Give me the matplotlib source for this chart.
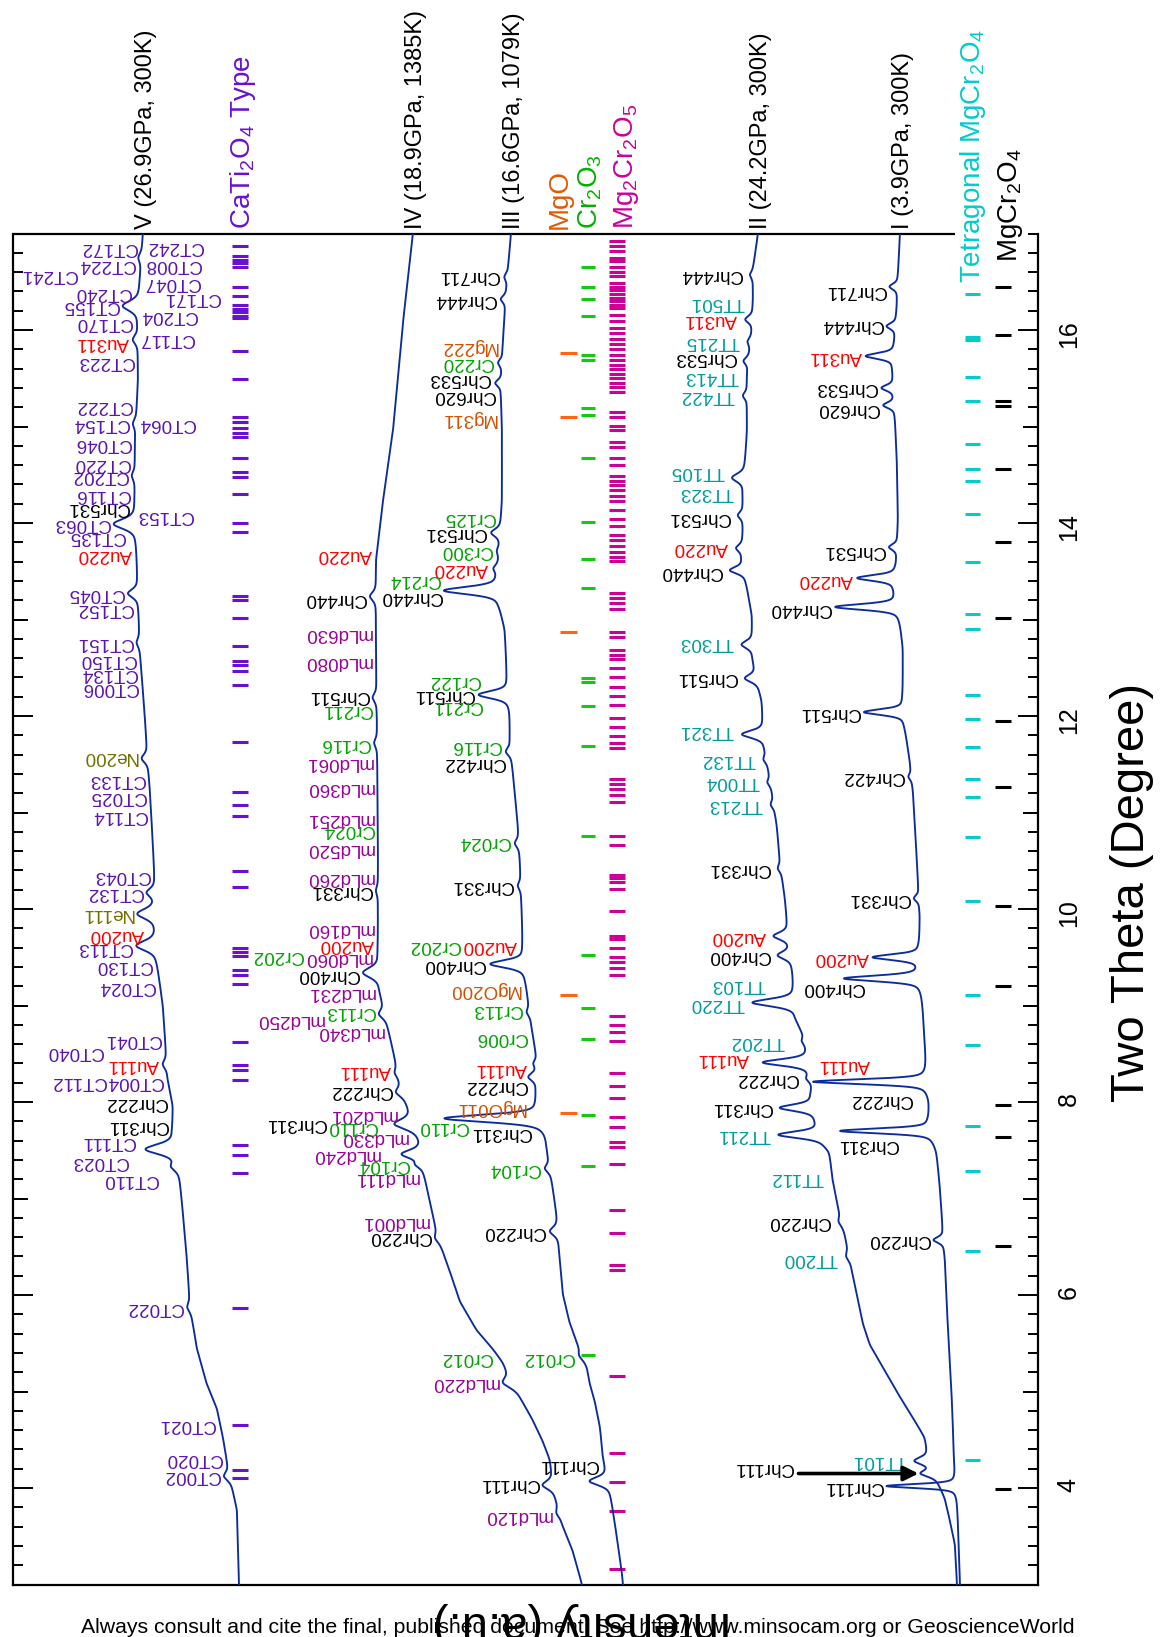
import numpy as np
import matplotlib
matplotlib.use("Agg")
import matplotlib.pyplot as plt
import matplotlib.transforms as mtransforms
from matplotlib.ticker import MultipleLocator, NullLocator
from matplotlib.textpath import TextPath
from matplotlib.font_manager import FontProperties

plt.rcParams["font.family"] = ["Liberation Sans", "DejaVu Sans"]
plt.rcParams["mathtext.default"] = "regular"

# ------------------------------------------------------------------ data
# Smooth background of each pattern: (2theta [deg], intensity [a.u.])
BASE_V = [(17.00, 895), (16.51, 898), (16.08, 900), (15.47, 900), (14.82, 903),
          (14.23, 903), (13.61, 901), (12.67, 898), (11.97, 893), (11.22, 888),
          (10.29, 883), (9.48, 881), (8.99, 875), (8.22, 870), (7.96, 865),
          (7.70, 865), (7.22, 858), (6.36, 851), (5.89, 848), (5.44, 841),
          (5.07, 831), (4.82, 821), (4.52, 815), (4.22, 810), (3.77, 801), (3.00, 799)]
BASE_IV = [(17.00, 625), (16.08, 635), (14.96, 645), (14.23, 655), (13.61, 662),
           (12.67, 662), (11.95, 661), (10.50, 660), (9.56, 660), (9.15, 658),
           (8.82, 651), (8.45, 643), (8.11, 636), (7.91, 628), (7.59, 617),
           (7.28, 614), (6.97, 608), (6.59, 600), (6.45, 595), (6.15, 585),
           (5.93, 578), (5.63, 561), (5.44, 545), (5.30, 535), (5.15, 528),
           (4.89, 515), (4.70, 505), (4.48, 495), (4.29, 488), (4.15, 486),
           (3.93, 483), (3.60, 475), (3.34, 465), (3.00, 456)]
BASE_III = [(17.00, 527), (16.63, 530), (15.90, 535), (15.34, 537), (14.95, 536),
            (14.23, 536), (13.61, 539), (13.44, 540), (13.15, 538), (12.89, 533),
            (12.45, 531), (12.04, 528), (11.74, 528), (11.41, 525), (10.85, 520),
            (10.49, 518), (9.93, 516), (9.63, 515), (9.34, 513), (9.08, 510),
            (8.70, 505), (8.45, 501), (8.11, 501), (8.00, 500), (7.66, 491),
            (7.48, 490), (7.11, 485), (6.81, 481), (6.36, 478), (6.00, 475),
            (5.70, 468), (5.48, 460), (5.25, 451), (5.07, 448), (4.89, 443),
            (4.63, 438), (4.33, 435), (4.15, 431), (4.00, 428), (3.77, 425),
            (3.41, 420), (3.11, 416), (3.00, 415)]
BASE_II = [(17.00, 280), (16.63, 285), (16.30, 285), (16.00, 286), (15.52, 291),
           (14.95, 291), (14.60, 293), (14.30, 295), (13.93, 295), (13.63, 296),
           (13.34, 291), (13.04, 286), (12.59, 285), (12.15, 276), (11.67, 273),
           (11.22, 266), (10.85, 261), (10.49, 258), (10.11, 253), (9.81, 250),
           (9.36, 245), (8.85, 241), (8.67, 233), (8.53, 230), (8.33, 228),
           (8.19, 225), (8.06, 226), (7.81, 221), (7.56, 213), (7.48, 208),
           (7.18, 205), (6.92, 200), (6.62, 193), (6.26, 186), (6.00, 181),
           (5.70, 175), (5.48, 168), (5.25, 155), (4.89, 135), (4.66, 121),
           (4.52, 113), (4.37, 110), (4.07, 100), (3.89, 93), (3.66, 88),
           (3.41, 83), (3.00, 81)]
BASE_I = [(17.00, 138), (16.56, 140), (16.26, 141), (15.90, 143), (15.60, 145),
          (15.12, 143), (14.60, 141), (14.04, 140), (13.60, 141), (13.34, 143),
          (13.04, 138), (12.70, 135), (12.19, 135), (11.89, 133), (11.52, 128),
          (11.22, 125), (10.49, 121), (9.93, 118), (9.63, 118), (9.19, 116),
          (8.63, 113), (8.37, 111), (8.00, 108), (7.81, 108), (7.48, 101),
          (7.11, 98), (6.36, 93), (5.63, 90), (4.89, 86), (4.33, 84),
          (3.96, 81), (3.00, 78)]

# Reflections: (2theta, height, half width)
PEAKS_V = [(16.75, 3, .05), (16.25, 16, .06), (15.90, 5, .05), (15.03, 3, .05),
           (14.49, 3, .05), (13.99, 22, .06), (13.27, 10, .05), (12.76, 3, .05),
           (11.56, 6, .05), (10.17, 8, .05), (9.95, 18, .06), (9.62, 20, .06),
           (8.39, 4, .05), (7.51, 30, .06), (7.33, 6, .05), (5.87, 3, .05),
           (4.12, 6, .05)]
PEAKS_IV = [(13.24, 6, .05), (12.19, 4, .05), (11.72, 3, .05), (10.19, 2, .05),
            (9.34, 16, .06), (8.91, 6, .05), (8.30, 3, .05), (8.10, 6, .05),
            (7.77, 20, .06), (7.46, 20, .05), (7.35, 6, .04), (6.59, 3, .05),
            (5.09, 10, .06), (4.03, 11, .05), (3.74, 3, .05)]
PEAKS_III = [(16.55, 3, .04), (16.32, 5, .04), (15.66, 4, .04), (15.45, 6, .04),
             (13.90, 9, .045), (13.71, 2, .04), (13.53, 4, .04), (13.30, 55, .045),
             (12.22, 30, .045), (11.63, 5, .045), (10.68, 4, .045), (10.24, 3, .045),
             (9.43, 34, .045), (8.93, 3, .045), (8.40, 3, .04), (8.26, 8, .045),
             (7.83, 98, .045), (7.31, 5, .045), (6.66, 8, .05), (5.37, 3, .05),
             (4.07, 19, .05)]
PEAKS_II = [(16.57, 3, .04), (16.11, 7, .04), (15.88, 3, .04), (15.68, 5, .04),
            (15.32, 4, .04), (14.47, 12, .05), (14.08, 5, .04), (13.74, 6, .04),
            (13.51, 14, .04), (12.74, 11, .045), (12.39, 12, .045), (11.81, 22, .045),
            (11.55, 3, .04), (11.31, 3, .04), (11.08, 3, .04), (10.42, 3, .04),
            (9.72, 15, .045), (9.52, 13, .045), (9.03, 43, .045), (8.63, 3, .04),
            (8.41, 46, .04), (8.24, 4, .04), (7.94, 34, .04), (7.66, 43, .04),
            (6.76, 3, .05), (6.40, 3, .05), (4.28, 16, .045), (4.15, 14, .04)]
PEAKS_I = [(16.45, 8, .035), (16.04, 9, .035), (15.73, 28, .035), (15.40, 12, .035),
           (15.22, 11, .035), (13.75, 8, .035), (13.43, 38, .035), (13.13, 63, .035),
           (12.04, 40, .035), (11.37, 3, .035), (10.11, 5, .035), (9.50, 47, .035),
           (9.28, 77, .035), (8.21, 115, .03), (7.70, 92, .03), (6.57, 10, .035),
           (4.02, 70, .025)]

# Peak labels: (text, 2theta, side of the trace)
LABELS_V = [("CT172", 16.86, "L"), ("CT242", 16.87, "R"), ("CT224", 16.68, "L"),
            ("CT008", 16.68, "R"), ("CT241", 16.58, "LL:CT224"), ("CT047", 16.49, "R"),
            ("CT240", 16.39, "L"), ("CT171", 16.34, "R"), ("CT155", 16.25, "L"),
            ("CT204", 16.15, "R"), ("CT170", 16.08, "L"), ("CT117", 15.91, "R"),
            ("Au311", 15.87, "L"), ("CT223", 15.67, "L"), ("CT222", 15.22, "L"),
            ("CT154", 15.03, "L"), ("CT064", 15.03, "R"), ("CT046", 14.82, "L"),
            ("CT220", 14.62, "L"), ("CT202", 14.49, "L"), ("CT116", 14.30, "L"),
            ("Chr531", 14.16, "L"), ("CT153", 14.08, "R"), ("CT063", 13.99, "L"),
            ("CT135", 13.86, "L"), ("Au220", 13.67, "L"), ("CT045", 13.27, "L"),
            ("CT152", 13.11, "L"), ("CT151", 12.76, "L"), ("CT150", 12.59, "L"),
            ("CT134", 12.44, "L"), ("CT006", 12.30, "L"), ("Ne200", 11.58, "L"),
            ("CT133", 11.34, "L"), ("CT025", 11.17, "L"), ("CT114", 10.97, "L"),
            ("CT043", 10.35, "L"), ("CT132", 10.17, "L"), ("Ne111", 9.95, "L"),
            ("Au200", 9.74, "L"), ("CT113", 9.60, "L"), ("CT130", 9.41, "L"),
            ("CT024", 9.20, "L"), ("CT041", 8.65, "L"), ("CT040", 8.52, "LL:CT041"),
            ("Au111", 8.39, "L"), ("CT004", 8.21, "L"), ("CT112", 8.21, "LL:CT004"),
            ("Chr222", 8.00, "L"), ("Chr311", 7.76, "L"), ("CT111", 7.59, "L"),
            ("CT023", 7.38, "L"), ("CT110", 7.20, "L"), ("CT022", 5.87, "L"),
            ("CT021", 4.66, "L"), ("CT020", 4.31, "L"), ("CT002", 4.13, "L")]
LABELS_IV = [("Au220", 13.67, "L"), ("Chr440", 13.22, "L"), ("mLd630", 12.85, "L"),
             ("mLd080", 12.56, "L"), ("Chr511", 12.21, "L"), ("Cr211", 12.07, "L"),
             ("Cr116", 11.72, "L"), ("mLd061", 11.52, "L"), ("mLd360", 11.26, "L"),
             ("mLd251", 10.94, "L"), ("Cr024", 10.82, "L"), ("mLd520", 10.63, "L"),
             ("mLd260", 10.33, "L"), ("Chr331", 10.19, "L"), ("mLd160", 9.80, "L"),
             ("Au200", 9.63, "L"), ("mLd060", 9.50, "L"), ("Cr202", 9.52, "LL:mLd060"),
             ("Chr400", 9.32, "L"), ("mLd231", 9.13, "L"), ("Cr113", 8.94, "L"),
             ("mLd250", 8.85, "LL:Cr113"), ("mLd340", 8.73, "L"), ("Au111", 8.33, "L"),
             ("Chr222", 8.12, "L"), ("mLd201", 7.87, "L"), ("Cr110", 7.75, "L"),
             ("Chr311", 7.78, "LL:Cr110"), ("mLd330", 7.63, "L"), ("mLd240", 7.46, "L"),
             ("Cr104", 7.35, "L"), ("mLd111", 7.22, "L"), ("mLd001", 6.76, "L"),
             ("Chr220", 6.61, "L"), ("Cr012", 5.35, "L"), ("mLd220", 5.09, "L"),
             ("Chr111", 4.05, "L"), ("mLd120", 3.72, "L")]
LABELS_III = [("Chr711", 16.56, "L"), ("Chr444", 16.32, "L"), ("Mg222", 15.83, "L"),
              ("Cr220", 15.66, "L"), ("Chr533", 15.50, "L"), ("Chr620", 15.32, "L"),
              ("Mg311", 15.08, "L"), ("Cr125", 14.06, "L"), ("Chr531", 13.90, "L"),
              ("Cr300", 13.71, "L"), ("Au220", 13.53, "L"), ("Cr214", 13.41, "L"),
              ("Chr440", 13.24, "L"), ("Cr122", 12.37, "L"), ("Chr511", 12.22, "L"),
              ("Cr211", 12.11, "L"), ("Cr116", 11.69, "L"), ("Chr422", 11.52, "L"),
              ("Cr024", 10.70, "L"), ("Chr331", 10.24, "L"), ("Au200", 9.62, "L"),
              ("Cr202", 9.62, "LL:Au200"), ("Chr400", 9.43, "L"), ("MgO200", 9.17, "L"),
              ("Cr113", 8.96, "L"), ("Cr006", 8.67, "L"), ("Au111", 8.35, "L"),
              ("Chr222", 8.17, "L"), ("MgO011", 7.94, "L"), ("Cr110", 7.75, "L"),
              ("Chr311", 7.68, "L"), ("Cr104", 7.31, "L"), ("Chr220", 6.66, "L"),
              ("Cr012", 5.35, "L"), ("Chr111", 4.24, "L")]
LABELS_II = [("Chr444", 16.57, "L"), ("TT501", 16.28, "L"), ("Au311", 16.11, "L"),
             ("TT215", 15.88, "L"), ("Chr533", 15.71, "L"), ("TT413", 15.52, "L"),
             ("TT422", 15.32, "L"), ("TT105", 14.53, "L"), ("TT323", 14.32, "L"),
             ("Chr531", 14.06, "L"), ("Au220", 13.75, "L"), ("Chr440", 13.50, "L"),
             ("TT303", 12.76, "L"), ("Chr511", 12.40, "L"), ("TT321", 11.85, "L"),
             ("TT132", 11.55, "L"), ("TT004", 11.32, "L"), ("TT213", 11.08, "L"),
             ("Chr331", 10.42, "L"), ("Au200", 9.72, "L"), ("Chr400", 9.52, "L"),
             ("TT103", 9.22, "L"), ("TT220", 9.02, "L"), ("TT202", 8.63, "L"),
             ("Au111", 8.45, "L"), ("Chr222", 8.24, "L"), ("Chr311", 7.94, "L"),
             ("TT211", 7.66, "L"), ("TT112", 7.22, "L"), ("Chr220", 6.76, "L"),
             ("TT200", 6.38, "L"), ("TT101", 4.29, "L")]
LABELS_I = [("Chr711", 16.41, "L"), ("Chr444", 16.06, "L"), ("Au311", 15.73, "L"),
            ("Chr533", 15.40, "L"), ("Chr620", 15.19, "L"), ("Chr531", 13.71, "L"),
            ("Au220", 13.41, "L"), ("Chr440", 13.11, "L"), ("Chr511", 12.04, "L"),
            ("Chr422", 11.37, "L"), ("Chr331", 10.11, "L"), ("Au200", 9.50, "L"),
            ("Chr400", 9.19, "L"), ("Au111", 8.39, "L"), ("Chr222", 8.03, "L"),
            ("Chr311", 7.56, "L"), ("Chr220", 6.57, "L"), ("Chr111", 4.02, "L")]
ARROW_LABEL_II = ("Chr111", 4.21, 4.15)   # text, label 2theta, arrow 2theta

PATTERN_NAMES = ["V (26.9GPa, 300K)", "IV (18.9GPa, 1385K)", "III (16.6GPa, 1079K)",
                 "II (24.2GPa, 300K)", "I (3.9GPa, 300K)"]

# Calculated reflection positions (2theta) of the phases
TICKS_CATI2O4 = [16.87, 16.77, 16.73, 16.69, 16.65, 16.45, 16.35, 16.26, 16.22, 16.19,
                 16.15, 16.12, 15.78, 15.49, 15.10, 15.05, 14.98, 14.93, 14.89, 14.67,
                 14.53, 14.48, 14.30, 14.00, 13.91, 13.24, 13.20, 13.02, 12.73, 12.57,
                 12.53, 12.47, 12.32, 11.73, 11.21, 11.08, 10.96, 10.39, 10.23, 9.60,
                 9.55, 9.51, 9.37, 9.32, 9.22, 8.62, 8.38, 8.33, 8.23, 7.55, 7.45,
                 7.26, 5.87, 4.65, 4.19, 4.10]
TICKS_MGO = [15.76, 15.10, 12.87, 9.11, 7.89]
TICKS_CR2O3 = [16.65, 16.45, 16.32, 16.15, 15.74, 15.69, 15.19, 15.12, 14.67, 14.01,
               13.63, 13.33, 12.39, 12.35, 12.10, 11.69, 10.76, 9.52, 8.97, 8.65,
               7.87, 7.34, 5.38]
TICKS_MG2CR2O5 = [16.92, 16.87, 16.82, 16.75, 16.71, 16.65, 16.60, 16.56, 16.49, 16.45,
                  16.41, 16.37, 16.33, 16.30, 16.26, 16.23, 16.16, 16.09, 16.02, 15.97,
                  15.91, 15.86, 15.80, 15.74, 15.69, 15.64, 15.60, 15.54, 15.50, 15.45,
                  15.41, 15.36, 15.15, 15.10, 15.01, 14.96, 14.84, 14.79, 14.67, 14.60,
                  14.49, 14.44, 14.39, 14.34, 14.28, 14.23, 14.13, 14.04, 13.97, 13.88,
                  13.82, 13.76, 13.70, 13.65, 13.61, 13.27, 13.22, 13.17, 13.11, 12.87,
                  12.82, 12.68, 12.63, 12.59, 12.50, 12.40, 12.30, 12.21, 12.11, 11.98,
                  11.89, 11.79, 11.72, 11.67, 11.35, 11.30, 11.24, 11.18, 11.11, 10.76,
                  10.66, 10.35, 10.32, 10.28, 10.21, 9.98, 9.72, 9.69, 9.60, 9.50,
                  9.45, 9.39, 9.32, 8.89, 8.80, 8.73, 8.63, 8.30, 8.17, 8.04, 7.84,
                  7.74, 7.59, 7.53, 7.36, 6.88, 6.64, 6.31, 6.26, 5.16, 4.36, 4.06,
                  3.76, 3.16]
TICKS_TETRAGONAL = [16.37, 15.93, 15.90, 15.51, 15.26, 14.82, 14.56, 14.44, 14.09, 13.60,
                    13.06, 12.90, 12.22, 11.97, 11.68, 11.35, 11.16, 10.75, 10.08, 9.11,
                    8.59, 7.75, 7.28, 6.46, 4.29]
TICKS_MGCR2O4 = [16.45, 15.95, 15.26, 15.21, 14.56, 13.80, 13.02, 11.95, 11.26, 10.03,
                 9.20, 7.97, 7.64, 6.51, 3.99]

# ------------------------------------------------------------------ style
DPI = 100
W_PX, H_PX = 1160, 1637
CURVE_COLOR = "#0b2c9c"
LABEL_SIZE = 13.5
LABEL_COLORS = {"Chr": "black", "CT": "#5a14b0", "Cr": "#00a300", "mLd": "#990099",
                "Mg": "#d25000", "Au": "#ff0000", "Ne": "#707000", "TT": "#009c9c"}
LABEL_GAP = {"V": 4, "IV": 4, "III": 5, "II": 8, "I": 4}
NUDGE = {("I", "Chr400"): 23, ("I", "Au111"): 50, ("I", "Chr311"): 28, ("I", "Chr222"): 10,
         ("III", "Cr214"): 36, ("III", "Cr122"): 20, ("III", "Cr211"): 13,
         ("III", "MgO011"): -20, ("II", "TT103"): 19, ("II", "TT202"): 9,
         ("II", "Au111"): 6, ("V", "CT023"): 34, ("V", "CT110"): 15, ("V", "CT111"): 12,
         ("V", "CT171"): 22, ("IV", "mLd240"): 18, ("IV", "Cr110"): 13}

# (phase label, ticks, tick colour, label colour, column in a.u., label anchor, label start)
PHASES = [
    (r"CaTi$_2$O$_4$ Type", TICKS_CATI2O4, "#6a10d0", "#6a10d0", (806, 790), 788, None),
    ("MgO", TICKS_MGO, "#ff6410", "#e05a00", (478, 461), 471, None),
    (r"Cr$_2$O$_3$", TICKS_CR2O3, "#14c814", "#00b000", (457, 443), 441, None),
    (r"Mg$_2$Cr$_2$O$_5$", TICKS_MG2CR2O5, "#cc0099", "#cc0099", (429, 413), 405, None),
    (r"Tetragonal MgCr$_2$O$_4$", TICKS_TETRAGONAL, "#00cccc", "#00cccc", (73, 58), 58, 16.49),
    (r"MgCr$_2$O$_4$", TICKS_MGCR2O4, "black", "black", (43, 27), 21, 16.70),
]

GRID = np.linspace(3.0, 17.0, 7001)


def pseudo_voigt(t, c, h, w, eta=0.5):
    u = (t - c) / w
    return h * (eta / (1.0 + u * u) + (1.0 - eta) * np.exp(-np.log(2.0) * u * u))


def trace(base, peaks):
    bt = np.array([b[0] for b in base])
    bi = np.array([b[1] for b in base], dtype=float)
    order = np.argsort(bt)
    y = np.interp(GRID, bt[order], bi[order])
    n = 30
    k = np.exp(-0.5 * (np.arange(-n, n + 1) / 12.0) ** 2)
    k /= k.sum()
    y = np.convolve(np.pad(y, n, mode="edge"), k, mode="valid")
    for c, h, w in peaks:
        y = y + pseudo_voigt(GRID, c, h, w)
    return y


FP = FontProperties(family="Liberation Sans", size=LABEL_SIZE)


def text_px(s):
    return TextPath((0, 0), s, prop=FP).get_extents().width * DPI / 72.0


def label_color(s):
    for key in ("Chr", "CT", "Cr", "mLd", "Mg", "Au", "Ne", "TT"):
        if s.startswith(key):
            return LABEL_COLORS[key]
    return "black"


def put_label(ax, x, y, s, ha):
    ax.text(x, y, s, rotation=180, rotation_mode="anchor", ha=ha, va="center",
            fontsize=LABEL_SIZE, color=label_color(s))


def draw_labels(ax, name, curve, labels):
    gap = LABEL_GAP[name]
    anchors = {}
    for text, pos, side in labels:
        if side.startswith("LL"):
            continue
        win = np.abs(GRID - pos) <= 0.05
        extra = NUDGE.get((name, text), 0)
        if side == "L":
            a = curve[win].max() + gap + extra
            put_label(ax, a, pos, text, "left")
        else:
            a = curve[win].min() - gap - extra
            put_label(ax, a, pos, text, "right")
        anchors[text] = a
    for text, pos, side in labels:
        if side.startswith("LL"):
            ref = side.split(":")[1]
            a = anchors[ref] + text_px(ref) + 3
            put_label(ax, a, pos, text, "left")


# ------------------------------------------------------------------ figure
fig = plt.figure(figsize=(W_PX / DPI, H_PX / DPI), dpi=DPI)
ax_left, ax_right, ax_top, ax_bot = 12.5, 1038.0, 233.5, 1584.5
ax = fig.add_axes([ax_left / W_PX, 1 - ax_bot / H_PX,
                   (ax_right - ax_left) / W_PX, (ax_bot - ax_top) / H_PX])
ax.set_xlim(ax_right - ax_left, 0)
ax.set_ylim(3, 17)

patterns = [("V", BASE_V, PEAKS_V, LABELS_V), ("IV", BASE_IV, PEAKS_IV, LABELS_IV),
            ("III", BASE_III, PEAKS_III, LABELS_III), ("II", BASE_II, PEAKS_II, LABELS_II),
            ("I", BASE_I, PEAKS_I, LABELS_I)]

above = mtransforms.offset_copy(ax.transData, fig=fig, x=0, y=4.5, units="dots")
curves = {}
for (name, base, peaks, labels), title in zip(patterns, PATTERN_NAMES):
    curve = trace(base, peaks)
    curves[name] = curve
    ax.plot(curve, GRID, color=CURVE_COLOR, lw=1.35, zorder=3)
    draw_labels(ax, name, curve, labels)
    ax.text(curve[-1] - 9.5, 17.0, title, transform=above, rotation=90,
            rotation_mode="anchor", ha="left", va="baseline", fontsize=17)

# arrow marking the Chr111 reflection of pattern II
txt, lab_pos, arr_pos = ARROW_LABEL_II
tip = curves["II"][np.argmin(np.abs(GRID - arr_pos))] + 2
ax.annotate("", xy=(tip, arr_pos), xytext=(tip + 120, arr_pos),
            arrowprops=dict(arrowstyle="-|>", color="black", lw=2.6,
                            mutation_scale=22, shrinkA=0, shrinkB=0), zorder=4)
put_label(ax, tip + 125, lab_pos, txt, "left")

# phase reflection markers
for title, ticks, tcol, lcol, (x0, x1), lx, start in PHASES:
    ax.hlines(ticks, x0, x1, colors=tcol, lw=2.2, zorder=2)
    if start is None:
        ax.text(lx, 17.0, title, transform=above, rotation=90, rotation_mode="anchor",
                ha="left", va="baseline", fontsize=20, color=lcol)
    else:
        ax.text(lx, start, title, rotation=90, rotation_mode="anchor",
                ha="left", va="baseline", fontsize=20, color=lcol)

# axes frame and ticks
for s in ("left", "right", "bottom"):
    ax.spines[s].set_linewidth(1.6)
ax.spines["top"].set_visible(False)
ax.plot([0, (955 - ax_left) / (ax_right - ax_left)], [1, 1], transform=ax.transAxes,
        color="black", lw=1.6, clip_on=False, solid_capstyle="butt")
ax.set_xticks([])
ax.yaxis.set_major_locator(MultipleLocator(2))
ax.yaxis.set_minor_locator(MultipleLocator(0.2))
ax.tick_params(axis="y", which="both", direction="in", left=True, right=True,
               labelleft=False, labelright=True)
ax.tick_params(axis="y", which="major", length=14.4, width=1.4, labelsize=18,
               labelrotation=90, pad=13.5)
ax.tick_params(axis="y", which="minor", length=7.2, width=1.4)
for side in ("left", "right"):
    sec = ax.secondary_yaxis(side)
    sec.set_yticks([5, 7, 9, 11, 13, 15])
    sec.yaxis.set_minor_locator(NullLocator())
    sec.tick_params(axis="y", direction="in", length=10.8, width=1.4,
                    labelleft=False, labelright=False)
    for sp in sec.spines.values():
        sp.set_visible(False)

fig.text(1132 / W_PX, 1 - 893 / H_PX, "Two Theta (Degree)", rotation=90,
         ha="center", va="center", fontsize=34)
fig.text(582 / W_PX, 1 - 1612 / H_PX, "Intensity (a.u.)", rotation=180,
         rotation_mode="anchor", ha="center", va="baseline", fontsize=34)
fig.text(578 / W_PX, 1 - 1633 / H_PX,
         "Always consult and cite the final, published document. "
         "See http://www.minsocam.org or GeoscienceWorld",
         ha="center", va="baseline", fontsize=15.3)

fig.savefig("out.png", dpi=DPI)
